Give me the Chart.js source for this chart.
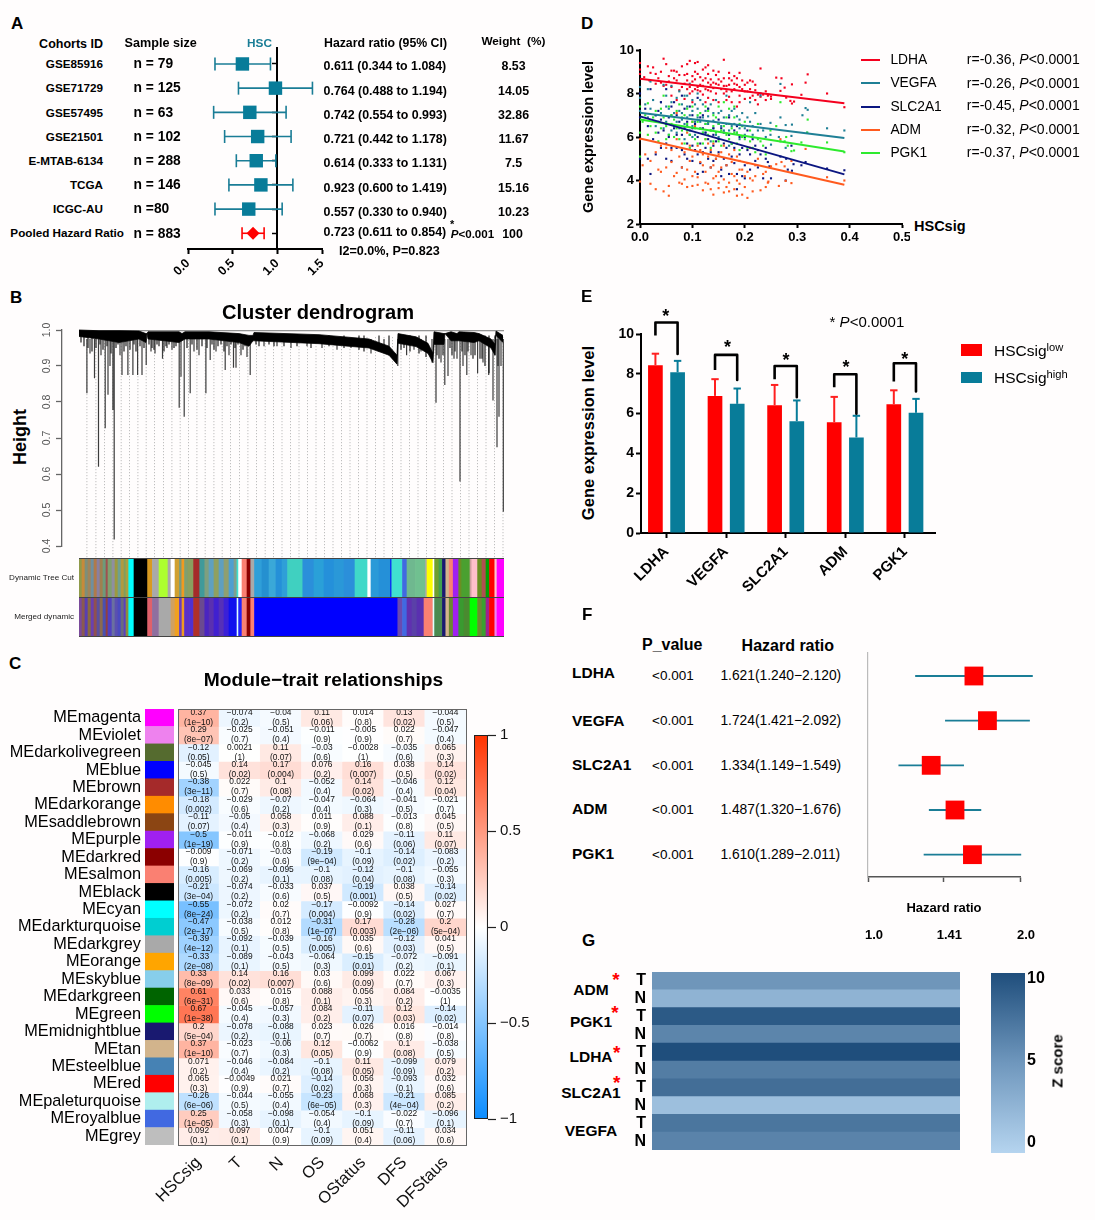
<!DOCTYPE html>
<html>
<head>
<meta charset="utf-8">
<title>HSC signature figure</title>
<script src="https://cdn.jsdelivr.net/npm/chart.js@4"></script>
<style>
  html, body { margin: 0; padding: 0; background: #fffdfd; }
  #page { position: relative; width: 1095px; height: 1220px; overflow: hidden; font-family: "Liberation Sans", Arial, sans-serif; color: #000; }
  #page canvas { position: absolute; }
  .txt { position: absolute; white-space: nowrap; line-height: 1; }
  .shape { position: absolute; }
  sup { font-size: 0.72em; line-height: 0; vertical-align: 0.5em; }
</style>
</head>
<body>
<div id="page"></div>
<script>
// ---------- panel A
const cohorts = ["GSE85916", "GSE71729", "GSE57495", "GSE21501", "E-MTAB-6134", "TCGA", "ICGC-AU", "Pooled Hazard Ratio"];
const sampleSizes = ["n = 79", "n = 125", "n = 63", "n = 102", "n = 288", "n = 146", "n =80", "n = 883"];
const cohortMid = [0.609, 0.979, 0.692, 0.78, 0.764, 0.816, 0.68, 0.728];
const cohortLow = [0.302, 0.565, 0.287, 0.41, 0.541, 0.458, 0.302, 0.605];
const cohortHigh = [0.923, 1.393, 1.098, 1.154, 0.983, 1.174, 1.054, 0.852];
const cohortHrText = ["0.611 (0.344 to 1.084)", "0.764 (0.488 to 1.194)", "0.742 (0.554 to 0.993)", "0.721 (0.442 to 1.178)", "0.614 (0.333 to 1.131)", "0.923 (0.600 to 1.419)", "0.557 (0.330 to 0.940)", "0.723 (0.611 to 0.854)"];
const cohortWeights = ["8.53", "14.05", "32.86", "11.67", "7.5", "15.16", "10.23", "100"];
const cohortTicks = [0, 0.5, 1, 1.5];

// ---------- panel B
const leafGuides = [7.9, 16.9, 25.5, 33.9, 42.2, 50.5, 58.9, 67.2, 75.5, 84.5, 92.9, 101.2, 109.5, 117.9, 126.2, 134.9, 143.2, 151.5, 160.5, 168.9, 177.5, 186.2, 194.5, 203, 211.5, 220, 228.5, 237, 245.5, 254, 262.5, 271, 279.5, 288, 296.5, 305, 313.5, 322, 330.5, 339, 347.5, 356, 364.5, 373, 381.5, 390, 398.5, 407, 415.5, 424];
const stemRank = [7.9, 11, 15.5, 19.5, 22, 26.2, 29, 31, 33.9, 35.2, 41, 43, 48.9, 53.9, 58.6, 63, 67.2, 72, 76, 83.5, 88, 93, 100.2, 102, 105.2, 111.2, 115, 120, 126.9, 131.2, 137, 146.2, 150, 154.5, 157, 162, 168, 171.2, 185, 198, 212, 228, 243, 258, 272, 292, 305, 318.8, 327.6, 335, 342, 353, 357, 362, 365.8, 369, 375, 378, 381, 384, 387.8, 392, 398.6, 404, 409.7, 414, 418, 420, 422, 424.3];
const stemLow = [0.824, 0.935, 0.866, 0.62, 0.93, 0.727, 0.82, 0.9, 0.778, 0.418, 0.93, 0.875, 0.875, 0.875, 0.875, 0.875, 0.903, 0.94, 0.935, 0.92, 0.95, 0.945, 0.784, 0.87, 0.759, 0.824, 0.94, 0.93, 0.824, 0.917, 0.94, 0.889, 0.93, 0.895, 0.895, 0.93, 0.925, 0.875, 0.955, 0.955, 0.95, 0.955, 0.95, 0.945, 0.95, 0.935, 0.94, 0.9, 0.93, 0.945, 0.94, 0.91, 0.798, 0.91, 0.847, 0.872, 0.92, 0.92, 0.579, 0.9, 0.875, 0.93, 0.88, 0.91, 0.875, 0.804, 0.674, 0.759, 0.9, 0.495];
const hairRank = [2, 5, 9, 13, 17, 21, 24, 28, 32, 37, 39, 45, 47, 51, 55, 57, 61, 65, 70, 73, 75, 78, 80, 85, 87, 90, 95, 97, 108, 113, 118, 123, 128, 133, 135, 139, 142, 145, 148, 152, 156, 159, 164, 166, 177, 180, 190, 195, 205, 218, 232, 250, 265, 280, 285, 300, 310, 322, 325, 331, 340, 347, 358, 360, 364, 371, 373, 376, 383, 386, 389, 394, 396, 401, 403, 406, 410, 416, 419];
const hairLow = [0.965, 0.955, 0.95, 0.94, 0.95, 0.96, 0.945, 0.955, 0.935, 0.95, 0.96, 0.94, 0.955, 0.945, 0.96, 0.94, 0.955, 0.95, 0.96, 0.95, 0.945, 0.96, 0.955, 0.94, 0.955, 0.96, 0.95, 0.955, 0.95, 0.96, 0.945, 0.955, 0.95, 0.96, 0.945, 0.955, 0.96, 0.94, 0.955, 0.96, 0.95, 0.96, 0.945, 0.955, 0.96, 0.955, 0.96, 0.955, 0.955, 0.955, 0.95, 0.955, 0.95, 0.945, 0.94, 0.94, 0.93, 0.945, 0.95, 0.94, 0.935, 0.925, 0.93, 0.92, 0.93, 0.95, 0.93, 0.94, 0.94, 0.93, 0.94, 0.92, 0.93, 0.92, 0.92, 0.9, 0.88, 0.93, 0.9];
const treeRank = [0, 20, 40, 60, 67, 68, 69, 85, 100, 103, 106, 130, 160, 170, 174, 175, 240, 290, 310, 318, 319, 337, 349, 354, 355, 365, 366, 372, 378, 380, 395, 400, 412, 416, 417, 424];
const treeTop = [1, 0.998, 0.998, 0.997, 0.99, 0.99, 0.995, 0.995, 0.995, 0.99, 0.995, 0.995, 0.99, 0.985, 0.985, 0.993, 0.987, 0.975, 0.955, 0.93, 0.99, 0.981, 0.963, 0.935, 0.995, 0.99, 0.99, 0.995, 0.99, 0.995, 0.993, 0.99, 0.975, 0.96, 0.997, 0.985];
const treeBottom = [0.982, 0.975, 0.965, 0.975, 0.965, 0.99, 0.975, 0.97, 0.965, 0.97, 0.975, 0.975, 0.965, 0.955, 0.97, 0.97, 0.962, 0.95, 0.93, 0.905, 0.963, 0.954, 0.935, 0.909, 0.96, 0.96, 0.99, 0.97, 0.97, 0.97, 0.965, 0.97, 0.95, 0.93, 0.985, 0.965];
const stripeRows = ["Dynamic Tree Cut", "Merged dynamic"];
const dynamicEnds = [3, 6, 9, 12, 15, 18, 21, 24, 27, 29, 33, 36, 39, 42, 45, 47, 49.7, 55, 68.6, 73.4, 80, 89, 92, 96, 100.4, 102.8, 105.5, 109, 114.6, 120.7, 125.8, 130, 135, 140, 145, 150, 155, 157.9, 159.6, 163, 168, 171.7, 175.5, 183, 190, 197, 203, 208.6, 223.8, 235, 245, 255, 265, 276, 288.7, 292, 300, 311.7, 312.7, 323.5, 328, 336.4, 346.5, 348, 354, 355.6, 360, 363.4, 366.8, 370.2, 374.2, 379.7, 382.7, 391, 392.8, 398.6, 403, 407, 410.5, 415.8, 418, 425];
const dynamicColors = ["#8f9a4a", "#c78a3a", "#7d8f7a", "#a0845a", "#6f8f9f", "#b07a4a", "#8a7fa0", "#9f8050", "#6e9a7a", "#a05050", "#7fa070", "#8f8fa0", "#9c9a40", "#6fa090", "#b09a40", "#7f9f5f", "#a8a040", "#00ffff", "#000000", "#d99a20", "#a9a9a9", "#adff2f", "#a9a9a9", "#ffffff", "#d0a030", "#7a9a7a", "#f09a20", "#7f9f6f", "#8a9f5f", "#a52a2a", "#409a9a", "#7f9f7f", "#5fa0c0", "#8fa060", "#5f9fc0", "#8f9f70", "#4f9fd0", "#7fa090", "#40e0d0", "#ffffff", "#fa8072", "#8b0000", "#a9a9a9", "#2f9fd8", "#2590d0", "#3aa8d8", "#2590d8", "#2f9fd8", "#40d0c0", "#2b8fda", "#2aa0d8", "#2590da", "#2a98d8", "#2b8fda", "#40d8c8", "#ffffff", "#2a9ad8", "#2590d8", "#0000ff", "#40e0d0", "#4169e1", "#6fb88f", "#70c090", "#a9a9a9", "#ffff00", "#ffffff", "#6f9f30", "#40a050", "#191970", "#d2b48c", "#fa8072", "#a020f0", "#6b8e23", "#4aa030", "#d0a0a0", "#ffc0cb", "#6b8e23", "#b05050", "#00a000", "#ff0000", "#ffc0cb", "#ff00ff"];
const mergedEnds = [3, 6, 9, 12, 15, 18, 21, 24, 27, 29, 33, 36, 39, 42, 45, 47, 49.7, 55, 68.6, 73.4, 80, 92, 96, 100.4, 103, 105.5, 110.6, 114.6, 120.7, 125.8, 130, 135, 140, 145, 150, 158, 159.6, 163, 168, 171.7, 175.5, 318.8, 323.5, 328, 333, 338, 345, 354, 355.6, 363.4, 366.8, 370.2, 374.2, 379.7, 385, 391, 398.6, 403, 407, 410.5, 415.8, 418, 425];
const mergedColors = ["#7a4a9a", "#8a5a50", "#5a3fb0", "#8a6a40", "#6a40b0", "#905050", "#5a50a0", "#8a6a50", "#4a50b0", "#904040", "#5040c0", "#6a70a0", "#5a50b0", "#4a4ac0", "#6a6a80", "#5a40c0", "#8a8a40", "#00ffff", "#000000", "#e0606a", "#8f6f9f", "#a9a9a9", "#d0a060", "#f0a020", "#6a3cc0", "#f09a20", "#5a30c8", "#5030d0", "#b03028", "#6a4a90", "#4a25c0", "#5a30b0", "#4020d0", "#5530b8", "#3a20d8", "#1010ee", "#e0ffff", "#2020ff", "#fa8072", "#8b0000", "#fa8072", "#0000ff", "#6a4ab0", "#4169e1", "#6030b0", "#5a40a8", "#5a30b0", "#fa8072", "#e0ffff", "#4a8a50", "#191970", "#d2b48c", "#6a8a30", "#a020f0", "#3a9a30", "#4a8a30", "#00ff00", "#6a8a30", "#3aa030", "#a02090", "#ff0000", "#ee82ee", "#ff00ff"];
const heightTicks = [0.4, 0.5, 0.6, 0.7, 0.8, 0.9, 1];

// ---------- panel C
const moduleNames = ["MEmagenta", "MEviolet", "MEdarkolivegreen", "MEblue", "MEbrown", "MEdarkorange", "MEsaddlebrown", "MEpurple", "MEdarkred", "MEsalmon", "MEblack", "MEcyan", "MEdarkturquoise", "MEdarkgrey", "MEorange", "MEskyblue", "MEdarkgreen", "MEgreen", "MEmidnightblue", "MEtan", "MEsteelblue", "MEred", "MEpaleturquoise", "MEroyalblue", "MEgrey"];
const moduleColors = ["#ff00ff", "#ee82ee", "#556b2f", "#0000ff", "#a52a2a", "#ff8c00", "#8b4513", "#a020f0", "#8b0000", "#fa8072", "#000000", "#00ffff", "#00ced1", "#a9a9a9", "#ffa500", "#87ceeb", "#006400", "#00ff00", "#191970", "#d2b48c", "#4682b4", "#ff0000", "#afeeee", "#4169e1", "#bebebe"];
const traits = ["HSCsig", "T", "N", "OS", "OStatus", "DFS", "DFStaus"];
const moduleCorr = [
  [0.37, -0.074, -0.04, 0.11, 0.014, 0.13, -0.044],
  [0.29, -0.025, -0.051, -0.011, -0.005, 0.022, -0.047],
  [-0.12, 0.0021, 0.11, -0.03, -0.0028, -0.035, 0.065],
  [-0.045, 0.14, 0.17, 0.076, 0.16, 0.038, 0.14],
  [-0.38, 0.022, 0.1, -0.052, 0.14, -0.046, 0.12],
  [-0.18, -0.029, -0.07, -0.047, -0.064, -0.041, -0.021],
  [-0.11, -0.05, 0.058, 0.011, 0.088, -0.013, 0.045],
  [-0.5, -0.011, -0.012, -0.068, 0.029, -0.11, 0.11],
  [-0.009, -0.071, -0.03, -0.19, -0.1, -0.14, -0.083],
  [-0.16, -0.069, -0.095, -0.1, -0.12, -0.1, -0.055],
  [-0.21, -0.074, -0.033, 0.037, -0.19, 0.038, -0.14],
  [-0.55, -0.072, 0.02, -0.17, -0.0092, -0.14, 0.027],
  [-0.47, -0.038, 0.012, -0.31, 0.17, -0.28, 0.2],
  [-0.39, -0.092, -0.039, -0.16, 0.035, -0.12, 0.041],
  [-0.33, -0.089, -0.043, -0.064, -0.15, -0.072, -0.091],
  [0.33, 0.14, 0.16, 0.03, 0.099, 0.022, 0.067],
  [0.61, 0.033, 0.015, 0.088, 0.056, 0.084, -0.0035],
  [0.67, -0.045, -0.057, 0.084, -0.11, 0.12, -0.14],
  [0.2, -0.078, -0.088, 0.023, 0.026, 0.016, -0.014],
  [0.37, -0.023, -0.06, 0.12, -0.0062, 0.1, -0.038],
  [0.071, -0.046, -0.084, -0.1, 0.11, -0.099, 0.079],
  [0.065, -0.0049, 0.021, -0.14, 0.056, -0.093, 0.032],
  [-0.26, -0.044, -0.055, -0.23, 0.068, -0.21, 0.085],
  [0.25, -0.058, -0.098, -0.054, -0.1, -0.022, -0.096],
  [0.092, 0.097, 0.0047, -0.1, 0.051, -0.11, 0.034]
];
const modulePvals = [
  ["1e-10", "0.2", "0.5", "0.06", "0.8", "0.02", "0.5"],
  ["8e-07", "0.7", "0.4", "0.9", "0.9", "0.7", "0.4"],
  ["0.05", "1", "0.07", "0.6", "1", "0.6", "0.3"],
  ["0.5", "0.02", "0.004", "0.2", "0.007", "0.5", "0.02"],
  ["3e-11", "0.7", "0.08", "0.4", "0.02", "0.4", "0.04"],
  ["0.002", "0.6", "0.2", "0.4", "0.3", "0.5", "0.7"],
  ["0.07", "0.4", "0.3", "0.9", "0.1", "0.8", "0.5"],
  ["1e-19", "0.9", "0.8", "0.2", "0.6", "0.06", "0.07"],
  ["0.9", "0.2", "0.6", "9e-04", "0.09", "0.02", "0.2"],
  ["0.005", "0.2", "0.1", "0.08", "0.04", "0.08", "0.3"],
  ["3e-04", "0.2", "0.6", "0.5", "0.001", "0.5", "0.02"],
  ["8e-24", "0.2", "0.7", "0.004", "0.9", "0.02", "0.7"],
  ["2e-17", "0.5", "0.8", "1e-07", "0.003", "2e-06", "5e-04"],
  ["4e-12", "0.1", "0.5", "0.005", "0.6", "0.03", "0.5"],
  ["2e-08", "0.1", "0.5", "0.3", "0.01", "0.2", "0.1"],
  ["8e-09", "0.02", "0.007", "0.6", "0.09", "0.7", "0.3"],
  ["6e-31", "0.6", "0.8", "0.1", "0.3", "0.2", "1"],
  ["1e-38", "0.4", "0.3", "0.2", "0.07", "0.03", "0.02"],
  ["5e-04", "0.2", "0.1", "0.7", "0.7", "0.8", "0.8"],
  ["1e-10", "0.7", "0.3", "0.05", "0.9", "0.08", "0.5"],
  ["0.2", "0.4", "0.2", "0.08", "0.05", "0.09", "0.2"],
  ["0.3", "0.9", "0.7", "0.02", "0.3", "0.1", "0.6"],
  ["6e-06", "0.5", "0.4", "6e-05", "0.3", "4e-04", "0.2"],
  ["1e-05", "0.3", "0.1", "0.4", "0.09", "0.7", "0.1"],
  ["0.1", "0.1", "0.9", "0.09", "0.4", "0.06", "0.6"]
];
const corrTicks = [-1, -0.5, 0, 0.5, 1];

// ---------- panel D
const ldhaPoints = [[0,9.4],[0,9.1],[0,8.9],[0.015,9.25],[0.025,9.2],[0.008,8.75],[0.018,8.6],[0.03,8.9],[0.03,8.45],[0.04,9],[0.045,9.6],[0.05,9.35],[0.055,8.8],[0.05,8.4],[0.06,9.05],[0.065,9.05],[0.07,9],[0.07,8.6],[0.06,7.9],[0.07,7.7],[0.08,9.25],[0.085,8.85],[0.08,8.3],[0.09,9.35],[0.09,8.6],[0.095,9.5],[0.1,8.1],[0.1,8.55],[0.105,9.4],[0.105,9],[0.11,9.45],[0.11,8.3],[0.115,8.75],[0.12,9.1],[0.12,8.35],[0.125,9.2],[0.125,8.7],[0.13,9.3],[0.13,8.5],[0.135,8.1],[0.14,9.05],[0.14,8.5],[0.145,8.85],[0.15,8.4],[0.15,7.6],[0.16,9.55],[0.16,8.7],[0.16,8],[0.165,8.35],[0.17,8.95],[0.17,7.85],[0.175,8.6],[0.18,8.2],[0.185,7.4],[0.19,8.95],[0.19,8.3],[0.19,7.9],[0.2,8.4],[0.2,7.75],[0.205,8.1],[0.21,8.6],[0.215,7.9],[0.22,8.15],[0.225,7.5],[0.23,9.15],[0.235,7.95],[0.24,7.7],[0.09,8.2],[0.095,8],[0.105,8.65],[0.11,8.15],[0.115,8.4],[0.12,7.95],[0.125,8.2],[0.13,7.8],[0.135,8.65],[0.14,8.25],[0.145,8],[0.15,8.65],[0.155,8.2],[0.165,7.7],[0.17,8.4],[0.175,8.1],[0.18,8.8],[0.185,8.4],[0.195,8.6],[0.2,8.1],[0.21,7.8],[0.22,8.4],[0.225,7.95],[0.32,8.88],[0.26,8.73],[0.27,8.7],[0.316,8.5],[0.29,8.42],[0.276,8.27],[0.268,8.12],[0.357,8],[0.308,7.94],[0.39,7.37],[0.287,7.66],[0.294,7.63],[0.29,7.54],[0.25,7.86],[0.244,7.9],[0.279,7.81],[0.02,8.95],[0.035,8.7],[0.04,8.5],[0.045,8.35],[0.055,8.55],[0.06,8.3],[0.065,8.7],[0.075,8.85],[0.075,8.15],[0.085,8.45],[0.085,7.75],[0.09,8.9],[0.095,8.3],[0.1,8.8],[0.1,7.6],[0.105,8.2],[0.11,8.9],[0.115,8.1],[0.12,8.6],[0.125,7.6],[0.13,8.9],[0.13,8.15],[0.135,8.4],[0.14,7.7],[0.145,8.45],[0.15,9],[0.155,8.55],[0.16,8.35],[0.165,8.1],[0.17,8.7],[0.175,7.6],[0.18,8.45],[0.185,8.7],[0.19,7.6],[0.195,8.2],[0.205,8.5],[0.21,8.2],[0.215,8.55],[0.22,7.7],[0.23,7.85],[0.24,8.1],[0.245,7.95],[0.25,7.75]];
const vegfaPoints = [[0,8.3],[0,7.8],[0,7.2],[0.01,7.5],[0.015,8.2],[0.02,8.55],[0.02,7.3],[0.03,7],[0.035,6.7],[0.04,7.6],[0.045,8.4],[0.05,7.9],[0.05,6.7],[0.055,7.3],[0.055,6.1],[0.06,8.35],[0.06,7],[0.065,6.5],[0.07,7.8],[0.07,6.2],[0.075,8.1],[0.075,7.2],[0.08,6.8],[0.085,7.9],[0.085,5.9],[0.09,7.4],[0.09,6.5],[0.095,8.45],[0.095,7],[0.1,7.7],[0.1,6],[0.105,6.7],[0.11,7.3],[0.11,8],[0.115,6.4],[0.12,7.5],[0.12,6.9],[0.125,6.2],[0.13,7.3],[0.13,6.6],[0.135,5.8],[0.14,7.1],[0.14,6.4],[0.145,7.7],[0.15,6.6],[0.15,6],[0.155,7.2],[0.16,6.3],[0.165,7.9],[0.17,7],[0.17,5.6],[0.175,6.5],[0.18,7.3],[0.185,6.2],[0.19,6.8],[0.19,5.9],[0.2,6.4],[0.205,6.9],[0.21,7.6],[0.215,6.1],[0.22,7.1],[0.23,7.9],[0.235,6.3],[0.24,6],[0.268,8.44],[0.316,7.33],[0.32,7.25],[0.31,7],[0.268,6.9],[0.249,6.65],[0.278,6.55],[0.29,6.57],[0.357,6.4],[0.39,6.3],[0.319,6.2],[0.249,6.1],[0.265,6],[0.289,6.05],[0.278,5.5],[0.25,5.65],[0.015,6.9],[0.025,7.7],[0.03,6.5],[0.04,7.1],[0.045,6.4],[0.05,7.4],[0.06,7.6],[0.06,6.3],[0.065,7.1],[0.07,6.7],[0.075,6.4],[0.08,7.5],[0.08,7.1],[0.085,6.6],[0.09,7.9],[0.09,6.9],[0.095,6.3],[0.1,7.2],[0.1,6.5],[0.105,7.5],[0.105,6.1],[0.11,6.9],[0.115,7.7],[0.115,6.7],[0.12,6.2],[0.125,7.2],[0.125,6.6],[0.13,6.95],[0.135,7.5],[0.135,6.3],[0.14,6.75],[0.145,6.1],[0.15,7.1],[0.155,6.5],[0.16,6.9],[0.165,6.6],[0.17,6.3],[0.175,7.2],[0.18,6.6],[0.185,6.95],[0.19,6.4],[0.195,7.1],[0.2,6.1],[0.21,6.7],[0.215,6.5],[0.225,6.3],[0.23,6.6]];
const slc2a1Points = [[0,8],[0,6.9],[0,5],[0.01,7.3],[0.015,5],[0.02,8.2],[0.02,4.3],[0.03,7],[0.03,5.2],[0.035,6.2],[0.04,7.6],[0.04,5.5],[0.05,8.2],[0.05,6.6],[0.05,5],[0.055,6],[0.06,7.4],[0.06,4.9],[0.065,6.4],[0.07,5.5],[0.07,7],[0.08,7.9],[0.08,6.1],[0.08,4.6],[0.085,5.2],[0.09,6.7],[0.09,5.7],[0.095,7.4],[0.1,6.4],[0.1,4.9],[0.105,5.4],[0.11,7.8],[0.11,4.3],[0.11,6],[0.115,4.8],[0.12,7],[0.12,5.3],[0.125,6.2],[0.13,7.3],[0.13,5],[0.135,4.6],[0.14,6.4],[0.14,5.6],[0.145,5],[0.15,6.8],[0.15,5.9],[0.155,4.5],[0.16,6.2],[0.16,5],[0.165,5.5],[0.17,6.9],[0.17,4.3],[0.175,5.7],[0.18,4.8],[0.185,6.5],[0.185,3.6],[0.19,5.2],[0.195,4.2],[0.2,6],[0.2,4.7],[0.205,5.4],[0.21,4.5],[0.215,5.9],[0.22,4.9],[0.225,5.4],[0.23,8],[0.235,4.1],[0.24,5],[0.39,4.47],[0.357,4.55],[0.316,4.85],[0.308,4.7],[0.289,5.6],[0.293,4.75],[0.279,5],[0.282,4.5],[0.29,4.45],[0.244,4.85],[0.247,4.65],[0.25,4.1],[0.278,4],[0.268,5.1],[0.015,6.5],[0.025,5.9],[0.035,7.2],[0.04,6.8],[0.045,6.3],[0.05,5.7],[0.055,6.9],[0.06,5.5],[0.065,7.6],[0.07,6.1],[0.075,6.7],[0.08,5.4],[0.085,7.3],[0.085,6.4],[0.09,5],[0.095,6.1],[0.1,7],[0.1,5.6],[0.105,6.6],[0.11,5.2],[0.115,6.9],[0.115,5.7],[0.12,6.4],[0.12,4.4],[0.125,5.5],[0.13,6.7],[0.13,5.9],[0.135,5.3],[0.14,6.1],[0.14,4.9],[0.145,5.8],[0.15,5.3],[0.155,6.4],[0.155,4.2],[0.16,5.7],[0.165,4.7],[0.17,6.1],[0.175,5.1],[0.18,6.3],[0.18,5.5],[0.185,4.3],[0.19,6],[0.195,5.5],[0.2,4.1],[0.205,6.3],[0.21,5.2],[0.22,5.6],[0.225,4.6],[0.23,5.2],[0.24,5.5]];
const admPoints = [[0,5.9],[0,3.95],[0.005,4.7],[0.02,3.85],[0.03,3.6],[0.035,4.5],[0.045,3.5],[0.04,4.4],[0.05,5.5],[0.055,3.3],[0.06,4.85],[0.055,3.75],[0.07,4.35],[0.07,5.9],[0.07,7.1],[0.075,3.9],[0.08,3.85],[0.085,4.05],[0.09,6.2],[0.09,3.7],[0.1,5.1],[0.1,4.2],[0.1,3.75],[0.105,6.5],[0.11,4.15],[0.11,5.6],[0.115,4.85],[0.12,3.55],[0.12,5.2],[0.125,4.4],[0.13,5.7],[0.13,3.85],[0.135,4.6],[0.14,4.1],[0.14,3.35],[0.145,5],[0.15,4.4],[0.15,3.65],[0.155,5.3],[0.16,4.05],[0.16,3.45],[0.165,4.7],[0.17,3.9],[0.17,3.5],[0.175,4.85],[0.18,4.2],[0.185,5.1],[0.185,3.3],[0.19,4.5],[0.19,3.85],[0.195,3.35],[0.2,4.2],[0.205,3.2],[0.205,4.8],[0.21,5.5],[0.215,4],[0.22,4.7],[0.23,3.55],[0.235,4.3],[0.24,3.7],[0.245,3.95],[0.39,4],[0.357,4.15],[0.316,5.45],[0.268,5.9],[0.26,4.75],[0.276,4.65],[0.27,4.85],[0.289,4.9],[0.25,4.65],[0.265,3.75],[0.289,3.88],[0.244,3.9],[0.278,3.98],[0.01,5.2],[0.02,4.9],[0.03,5.3],[0.04,5.6],[0.05,4.6],[0.06,5.4],[0.065,4.2],[0.075,5.1],[0.08,5.7],[0.08,4.6],[0.085,5.3],[0.09,4.5],[0.095,5.6],[0.095,4.9],[0.1,6.7],[0.105,4.4],[0.11,3.8],[0.115,5.4],[0.12,4.7],[0.125,5.9],[0.125,3.9],[0.13,5.1],[0.135,5.4],[0.135,3.6],[0.14,5.7],[0.14,4.7],[0.145,4.2],[0.15,5.2],[0.15,3.9],[0.155,4.6],[0.16,5.6],[0.165,3.7],[0.17,5.2],[0.175,4.3],[0.18,3.6],[0.18,5.4],[0.185,4],[0.19,4.9],[0.195,4.5],[0.2,3.7],[0.205,4.4],[0.21,4.1],[0.215,3.5],[0.22,4.2],[0.225,5],[0.24,4.4]];
const pgk1Points = [[0,7.4],[0,6.2],[0,5.1],[0.01,7],[0.015,7.55],[0.02,6.5],[0.03,6.2],[0.03,7.2],[0.04,6.4],[0.045,6.9],[0.045,7.9],[0.05,5.9],[0.055,7.4],[0.06,6.6],[0.065,6],[0.07,7.2],[0.07,6.4],[0.08,6.9],[0.085,5.7],[0.09,6.3],[0.09,7.3],[0.095,5.5],[0.1,6.7],[0.105,5.9],[0.11,7],[0.115,6.4],[0.12,5.7],[0.125,6.6],[0.13,6.1],[0.13,7.2],[0.135,5.5],[0.14,6.5],[0.145,6.9],[0.15,5.8],[0.155,6.3],[0.16,7.6],[0.165,6.1],[0.17,6.6],[0.17,7.3],[0.175,5.7],[0.18,6.9],[0.185,6.2],[0.19,5.4],[0.195,6.5],[0.2,5.9],[0.205,5.5],[0.21,6.3],[0.22,5.3],[0.225,6.6],[0.23,5.8],[0.24,5.2],[0.268,7.6],[0.32,6.8],[0.26,6.5],[0.279,6],[0.249,6.3],[0.308,5.75],[0.39,5.3],[0.357,5.75],[0.319,6.2],[0.282,5.6],[0.289,5.35],[0.294,5.38],[0.268,5.8],[0.276,5.8],[0.005,6.7],[0.015,6.1],[0.025,6.9],[0.035,5.8],[0.04,7.3],[0.05,6.5],[0.055,6.1],[0.06,7],[0.065,6.8],[0.075,5.9],[0.075,7.5],[0.08,6.3],[0.085,7],[0.09,6.6],[0.095,6.1],[0.1,7.4],[0.105,6.4],[0.11,5.7],[0.11,6.7],[0.115,7.1],[0.12,6.2],[0.125,5.9],[0.125,7.4],[0.13,6.7],[0.135,6.3],[0.14,5.8],[0.14,7],[0.145,6.2],[0.15,6.6],[0.15,7.4],[0.155,5.6],[0.16,6.5],[0.165,6.9],[0.17,5.9],[0.175,6.4],[0.18,6.2],[0.18,7.4],[0.185,5.7],[0.19,6.6],[0.195,6],[0.2,6.7],[0.21,5.8],[0.215,5.5],[0.225,5.9],[0.235,5.6]];
const geneNames = ["LDHA", "VEGFA", "SLC2A1", "ADM", "PGK1"];
const geneColors = ["#f4001e", "#1f7f95", "#0c1680", "#ff5a1e", "#2eea2e"];
const fitEndX = [0, 0.39];
const fitLdha = [8.68, 7.55];
const fitVegfa = [7.12, 5.95];
const fitSlc2a1 = [6.95, 4.28];
const fitAdm = [5.93, 3.8];
const fitPgk1 = [6.8, 5.33];
const geneStats = ["r=-0.36, ", "r=-0.26, ", "r=-0.45, ", "r=-0.32, ", "r=-0.37, "];

// ---------- panel E
const lowMean = [8.43, 6.89, 6.42, 5.57, 6.47];
const highMean = [8.08, 6.49, 5.62, 4.8, 6.04];
const lowUpper = [9.01, 7.73, 7.44, 6.84, 7.17];
const highUpper = [8.65, 7.26, 6.66, 5.89, 6.74];
const bracketTop = [10.58, 8.95, 8.39, 7.98, 8.53];
const bracketLowEnd = [9.93, 8.19, 7.73, 7.32, 7.61];
const bracketHighEnd = [9, 7.69, 6.82, 5.99, 7.11];

// ---------- panel F
const fGenes = ["LDHA", "VEGFA", "SLC2A1", "ADM", "PGK1"];
const hrMid = [1.621, 1.724, 1.334, 1.487, 1.61];
const hrLow = [1.24, 1.421, 1.149, 1.32, 1.289];
const hrHigh = [2.12, 2.092, 1.549, 1.676, 2.011];
const hrTicks = [1, 1.41, 2];
const hrTickLabels = ["1.0", "1.41", "2.0"];

// ---------- panel G
const zRows = ["T", "N", "T", "N", "T", "N", "T", "N", "T", "N"];
const zScores = [4.6, 2.4, 9.1, 5.9, 10, 6.5, 7.6, 1.5, 7, 6];
const zTicks = [0, 5, 10];

// ---------- helpers
const page = document.getElementById("page");
Chart.defaults.font.family = '"Liberation Sans", Arial, sans-serif';
Chart.defaults.color = "#000";
const TEAL = "#087c99";

function addChart(plot, room, config) {
  const [l, t, r, b] = plot;
  const [rl, rt, rr, rb] = room;
  const canvas = document.createElement("canvas");
  canvas.style.left = (l - rl) + "px";
  canvas.style.top = (t - rt) + "px";
  canvas.width = r - l + rl + rr;
  canvas.height = b - t + rt + rb;
  page.appendChild(canvas);
  const pad = { left: rl, top: rt, right: rr, bottom: rb };
  for (const [id, s] of Object.entries(config.options.scales)) {
    if (s.display === false || typeof s.position === "object") continue;
    const side = id === "x" ? "bottom" : (s.position === "right" ? "right" : "left");
    const size = pad[side];
    pad[side] = 0;
    s.afterFit = sc => {
      if (id === "x") sc.height = size; else sc.width = size;
      sc.paddingLeft = sc.paddingRight = sc.paddingTop = sc.paddingBottom = 0;
    };
  }
  config.options.responsive = false;
  config.options.animation = false;
  config.options.events = [];
  config.options.layout = { padding: pad, autoPadding: false };
  config.options.plugins = { legend: { display: false }, tooltip: { enabled: false } };
  return new Chart(canvas.getContext("2d"), config);
}

function label(html, x, y, opts = {}) {
  const el = document.createElement("div");
  el.className = "txt";
  el.innerHTML = html;
  el.style.left = x + "px";
  el.style.top = y + "px";
  el.style.fontSize = (opts.size || 12) + "px";
  if (opts.bold) el.style.fontWeight = "bold";
  if (opts.color) el.style.color = opts.color;
  const shift = opts.align === "right" ? "-100%" : opts.align === "center" ? "-50%" : "0";
  el.style.transform = `translate(${shift},-50%)` + (opts.rotate ? ` rotate(${opts.rotate}deg)` : "");
  page.appendChild(el);
}

function swatch(x, y, w, h, color) {
  const el = document.createElement("div");
  el.className = "shape";
  el.style.cssText = `left:${x}px;top:${y}px;width:${w}px;height:${h}px;background:${color}`;
  page.appendChild(el);
}

function inkAxis(size, tickLength, extra = {}) {
  return Object.assign({
    grid: { drawOnChartArea: false, tickLength, tickWidth: 2, tickColor: "#000" },
    border: { color: "#000", width: 2 },
    ticks: { color: "#000", font: { weight: "bold", size }, padding: 2 }
  }, extra);
}

function mixColor(from, to, t) {
  const c = from.map((f, i) => Math.round(f + (to[i] - f) * t));
  return `rgb(${c[0]},${c[1]},${c[2]})`;
}
const corrColor = v => v >= 0 ? mixColor([255, 255, 255], [255, 51, 0], v) : mixColor([255, 255, 255], [10, 140, 255], -v);
const zColor = v => mixColor([179, 211, 238], [31, 78, 124], v / 10);
const fmtCorr = v => String(v).replace("-", "\u2212");
const fixedTicks = list => axis => { axis.ticks = list.map(value => ({ value })); };

// ---------- A: pooled forest plot
{
  const rows = cohorts.map((_, i) => i);
  const lines = rows.map(i => ({
    data: [{ x: cohortLow[i], y: i }, { x: cohortHigh[i], y: i }],
    showLine: true,
    borderColor: i === 7 ? "#ff0000" : "#1a7d96",
    borderWidth: 1.6,
    pointStyle: "line",
    pointRotation: 90,
    pointRadius: i === 7 ? 6 : 6.5,
    pointBorderColor: i === 7 ? "#ff0000" : "#1a7d96",
    pointBorderWidth: 1.6,
    clip: false
  }));
  addChart([188, 48, 322, 249], [24, 4, 10, 36], {
    type: "scatter",
    data: {
      datasets: [
        { data: rows.slice(0, 7).map(i => ({ x: cohortMid[i], y: i })), pointStyle: "rect", pointRadius: 9.5, backgroundColor: TEAL, borderWidth: 0 },
        { data: [{ x: cohortMid[7], y: 7 }], pointStyle: "rectRot", pointRadius: 6.5, backgroundColor: "#ff0000", borderWidth: 0 },
        ...lines
      ]
    },
    options: {
      scales: {
        x: inkAxis(12.5, 5, {
          type: "linear", min: 0, max: 1.5,
          afterBuildTicks: fixedTicks(cohortTicks),
          ticks: { color: "#000", font: { weight: "bold", size: 12.5 }, padding: 2, minRotation: 45, maxRotation: 45, autoSkip: false, callback: v => v.toFixed(1) }
        }),
        y: {
          type: "linear", min: -0.66, max: 7.65, reverse: true, position: { x: 1 },
          afterBuildTicks: fixedTicks(rows),
          grid: { drawOnChartArea: false, tickLength: 4, tickWidth: 1.5, tickColor: "#000" },
          border: { color: "#000", width: 2 },
          ticks: { display: false }
        }
      }
    }
  });
  label("A", 11, 23, { size: 17, bold: true });
  label("Cohorts ID", 103, 44, { size: 12.5, bold: true, align: "right" });
  label("Sample size", 124.6, 43, { size: 12.6, bold: true });
  label("HSC", 247, 44, { size: 11.8, bold: true, color: "#1a7d96" });
  label("Hazard ratio (95% CI)", 324, 43, { size: 12.3, bold: true });
  label("Weight&nbsp;&nbsp;(%)", 481.4, 42, { size: 11.8, bold: true });
  const textY = [66, 91, 115, 139, 163, 188, 212, 232];
  const nameY = [64, 88, 112.5, 136.5, 161, 185, 209, 233];
  const nY = [63.5, 88, 112.5, 136.5, 161, 185, 209, 233.5];
  cohorts.forEach((name, i) => {
    label(name, i === 7 ? 124 : 103, nameY[i], { size: 11.7, bold: true, align: "right" });
    label(sampleSizes[i], 133.6, nY[i], { size: 13.8, bold: true });
    label(cohortHrText[i], 323.6, textY[i], { size: 12.4, bold: true });
    label(cohortWeights[i], i === 7 ? 512.5 : 513.6, i === 7 ? 234 : textY[i], { size: 12.4, bold: true, align: "center" });
  });
  label("*", 450, 224, { size: 11, bold: true });
  label("<i>P</i>&lt;0.001", 450.7, 233.5, { size: 11.6, bold: true });
  label("I2=0.0%, P=0.823", 339, 251, { size: 12.6, bold: true });
}

// ---------- B: dendrogram
{
  const stems = stemRank.flatMap((x, i) => [{ x, y: 0.975 }, { x, y: stemLow[i] }, { x, y: NaN }]);
  const hairs = hairRank.flatMap((x, i) => [{ x, y: 0.985 }, { x, y: hairLow[i] }, { x, y: NaN }]);
  const guides = leafGuides.flatMap(x => [{ x, y: 0.98 }, { x, y: 0.352 }, { x, y: NaN }]);
  addChart([62, 330, 504, 546], [30, 14, 4, 14], {
    type: "scatter",
    data: {
      datasets: [
        { data: treeRank.map((x, i) => ({ x, y: treeTop[i] })), showLine: true, borderWidth: 0.8, borderColor: "#000", backgroundColor: "#000", fill: "+1", pointRadius: 0, clip: false },
        { data: treeRank.map((x, i) => ({ x, y: treeBottom[i] })), showLine: true, borderWidth: 0.8, borderColor: "#111", pointRadius: 0, clip: false },
        { data: [{ x: 0, y: 0.998 }, { x: 425, y: 0.998 }], showLine: true, borderWidth: 1, borderColor: "#777", pointRadius: 0 },
        { data: hairs, showLine: true, borderWidth: 1.2, borderColor: "#1e1e1e", pointRadius: 0, spanGaps: false },
        { data: stems, showLine: true, borderWidth: 1.2, borderColor: "#3c3c3c", pointRadius: 0, spanGaps: false },
        { data: guides, showLine: true, borderWidth: 1, borderColor: "#b0b0b0", borderDash: [1, 2], pointRadius: 0, spanGaps: false, clip: false }
      ]
    },
    options: {
      scales: {
        x: { type: "linear", display: false, min: -17, max: 425 },
        y: {
          type: "linear", min: 0.4, max: 1,
          afterBuildTicks: fixedTicks(heightTicks),
          grid: { drawOnChartArea: false, tickLength: 6, tickWidth: 1.3, tickColor: "#666" },
          border: { color: "#666", width: 1.3 },
          ticks: { color: "#555", font: { size: 10.5 }, minRotation: 90, crossAlign: "center", padding: 2, callback: v => v.toFixed(1) }
        }
      }
    }
  });
  const spans = (ends, row) => ends.map((end, i) => ({ x: [i ? ends[i - 1] : 0, end], y: row }));
  addChart([79, 558, 504, 636], [78, 1, 2, 1], {
    type: "bar",
    data: {
      labels: stripeRows,
      datasets: [
        { data: spans(dynamicEnds, stripeRows[0]), backgroundColor: dynamicColors, grouped: false, barPercentage: 1, categoryPercentage: 1 },
        { data: spans(mergedEnds, stripeRows[1]), backgroundColor: mergedColors, grouped: false, barPercentage: 1, categoryPercentage: 1 }
      ]
    },
    options: {
      indexAxis: "y",
      scales: {
        x: { type: "linear", display: false, min: 0, max: 425 },
        y: {
          type: "category",
          grid: { z: 1, color: "#444", lineWidth: 1, drawTicks: false },
          border: { display: false },
          ticks: { font: { size: 8.1 }, color: "#222", padding: 5 }
        }
      }
    }
  });
  label("B", 10, 297, { size: 17, bold: true });
  label("Cluster dendrogram", 318, 312, { size: 20.1, bold: true, align: "center" });
  label("Height", 20, 437, { size: 18, bold: true, align: "center", rotate: -90 });
}

// ---------- C: module-trait heatmap
{
  addChart([145, 709, 174, 1145], [145, 0, 1, 0], {
    type: "bar",
    data: {
      labels: moduleNames,
      datasets: [{ data: moduleNames.map(() => [0, 1]), backgroundColor: moduleColors, barPercentage: 1, categoryPercentage: 1 }]
    },
    options: {
      indexAxis: "y",
      scales: {
        x: { type: "linear", display: false, min: 0, max: 1 },
        y: { type: "category", grid: { display: false, drawTicks: false }, border: { display: false }, ticks: { autoSkip: false, font: { size: 16.3 }, padding: 4 } }
      }
    }
  });
  const cellText = {
    id: "cellText",
    afterDatasetsDraw(chart) {
      const { ctx, scales: { x, y } } = chart;
      ctx.save();
      ctx.font = '8.4px "Liberation Sans", Arial, sans-serif';
      ctx.fillStyle = "#111";
      ctx.textAlign = "center";
      ctx.textBaseline = "middle";
      moduleCorr.forEach((row, r) => row.forEach((v, c) => {
        const cx = x.getPixelForValue(c);
        const top = y.getPixelForValue(r);
        ctx.fillText(fmtCorr(v), cx, top + 3.4);
        ctx.fillText("(" + modulePvals[r][c].replace("-", "\u2212") + ")", cx, top + 13.4);
      }));
      ctx.restore();
    }
  };
  addChart([178, 709, 466, 1145], [34, 2, 8, 72], {
    type: "bar",
    data: {
      labels: traits,
      datasets: moduleCorr.map((row, r) => ({
        data: row.map(() => [r, r + 1]),
        backgroundColor: row.map(corrColor),
        grouped: false, barPercentage: 1, categoryPercentage: 1
      }))
    },
    options: {
      scales: {
        x: { type: "category", grid: { display: false, drawTicks: false }, border: { display: false }, ticks: { font: { size: 16.5 }, color: "#111", minRotation: 45, maxRotation: 45, autoSkip: false, padding: 8 } },
        y: { type: "linear", display: false, min: 0, max: 25, reverse: true }
      }
    },
    plugins: [cellText]
  });
  const frame = document.createElement("div");
  frame.className = "shape";
  frame.style.cssText = "left:177.5px;top:708.5px;width:287.5px;height:435.5px;border:1.5px solid #666";
  page.appendChild(frame);
  // colour key
  addChart([474, 735, 488, 1119], [2, 8, 50, 8], {
    type: "bar",
    data: {
      labels: [""],
      datasets: [{
        data: [[-1, 1]], barPercentage: 1, categoryPercentage: 1, borderSkipped: false, borderWidth: 1.4, borderColor: "#222",
        backgroundColor: ctx => {
          const area = ctx.chart.chartArea;
          if (!area) return "#fff";
          const g = ctx.chart.ctx.createLinearGradient(0, area.top, 0, area.bottom);
          g.addColorStop(0, "#ff3300");
          g.addColorStop(0.5, "#ffffff");
          g.addColorStop(1, "#0a8cff");
          return g;
        }
      }]
    },
    options: {
      scales: {
        x: { type: "category", display: false },
        y: {
          type: "linear", position: "right", min: -1, max: 1,
          afterBuildTicks: fixedTicks(corrTicks),
          grid: { drawOnChartArea: false, tickLength: 8, tickWidth: 1.2, tickColor: "#222" },
          border: { display: false },
          ticks: { font: { size: 15 }, color: "#111", padding: 4, callback: v => fmtCorr(v) }
        }
      }
    }
  });
  label("C", 9, 663, { size: 17, bold: true });
  label("Module\u2212trait relationships", 323.5, 680, { size: 19.2, bold: true, align: "center" });
}

// ---------- D: expression against HSCsig
{
  const seriesPoints = [ldhaPoints, vegfaPoints, slc2a1Points, admPoints, pgk1Points];
  const fits = [fitLdha, fitVegfa, fitSlc2a1, fitAdm, fitPgk1];
  const fitSets = fits.map((ys, i) => ({
    data: ys.map((y, k) => ({ x: fitEndX[k], y })),
    showLine: true, borderColor: geneColors[i], borderWidth: 2, pointRadius: 0, clip: false
  }));
  const dotSets = seriesPoints.map((pts, i) => ({
    data: pts.map(([x, y]) => ({ x, y })),
    pointStyle: "rect", pointRadius: 1.5, backgroundColor: geneColors[i], borderWidth: 0, clip: false
  })).reverse();
  addChart([640, 50, 902, 224], [40, 6, 8, 24], {
    type: "scatter",
    data: { datasets: [...fitSets, ...dotSets] },
    options: {
      scales: {
        x: inkAxis(13, 4, {
          type: "linear", min: 0, max: 0.5,
          ticks: { color: "#000", font: { weight: "bold", size: 13 }, padding: 2, stepSize: 0.1, maxRotation: 0, callback: v => v.toFixed(1) }
        }),
        y: inkAxis(13, 4, {
          type: "linear", min: 2, max: 10,
          ticks: { color: "#000", font: { weight: "bold", size: 13 }, padding: 2, stepSize: 2 }
        })
      }
    }
  });
  label("D", 581, 23, { size: 17, bold: true });
  label("Gene expression level", 588, 137, { size: 14.4, bold: true, align: "center", rotate: -90 });
  label("HSCsig", 914, 226, { size: 14.5, bold: true });
  const legendY = [60, 83.3, 106.7, 130, 153.3];
  const statY = [59.3, 83, 105, 128.7, 151.7];
  geneNames.forEach((g, i) => {
    swatch(861, legendY[i] - 1, 19, 2, geneColors[i]);
    label(g, 890.4, legendY[i], { size: 13.8 });
    label(geneStats[i] + "<i>P</i>&lt;0.0001", 966.8, statY[i], { size: 14 });
  });
}

// ---------- E: mean expression bars
{
  const dodge = 0.186;
  const whiskers = (means, tops, side, color) => means.map((m, i) => ({
    type: "scatter", order: 1,
    data: [{ x: i + side, y: m }, { x: i + side, y: tops[i] }],
    showLine: true, borderColor: color, borderWidth: 2,
    pointStyle: "line", pointRadius: [0, 3.7], pointBorderColor: color, pointBorderWidth: 2, clip: false
  }));
  const brackets = geneNames.map((_, i) => ({
    type: "scatter", order: 0,
    data: [
      { x: i - dodge, y: bracketLowEnd[i] }, { x: i - dodge, y: bracketTop[i] },
      { x: i + dodge, y: bracketTop[i] }, { x: i + dodge, y: bracketHighEnd[i] }
    ],
    showLine: true, borderColor: "#000", borderWidth: 2.6, borderJoinStyle: "round", pointRadius: 0, clip: false
  }));
  addChart([641, 334, 935, 533], [40, 14, 6, 64], {
    type: "bar",
    data: {
      datasets: [
        { label: "low", order: 2, data: lowMean.map((y, x) => ({ x, y })), backgroundColor: "#ff0000", barPercentage: 0.662, categoryPercentage: 0.745 },
        { label: "high", order: 2, data: highMean.map((y, x) => ({ x, y })), backgroundColor: TEAL, barPercentage: 0.662, categoryPercentage: 0.745 },
        ...whiskers(lowMean, lowUpper, -dodge, "#ff2020"),
        ...whiskers(highMean, highUpper, dodge, TEAL),
        ...brackets
      ]
    },
    options: {
      scales: {
        x: inkAxis(15, 5, {
          type: "linear", offset: false, min: -0.428, max: 4.505,
          afterBuildTicks: fixedTicks(geneNames.map((_, i) => i)),
          grid: { offset: false, drawOnChartArea: false, tickLength: 5, tickWidth: 2, tickColor: "#000" },
          ticks: { color: "#000", font: { weight: "bold", size: 15 }, padding: 5, minRotation: 45, maxRotation: 45, autoSkip: false, callback: v => geneNames[v] }
        }),
        y: inkAxis(14, 5, {
          type: "linear", min: 0, max: 10,
          ticks: { color: "#000", font: { weight: "bold", size: 14 }, padding: 2, stepSize: 2 }
        })
      }
    }
  });
  label("E", 581, 296, { size: 17, bold: true });
  label("Gene expression level", 588, 433, { size: 16.5, bold: true, align: "center", rotate: -90 });
  label("* <i>P</i>&lt;0.0001", 829.6, 321, { size: 15 });
  swatch(961, 344, 21, 12, "#ff0000");
  swatch(961, 372, 21, 11, TEAL);
  label("HSCsig<sup>low</sup>", 994, 351, { size: 15.5 });
  label("HSCsig<sup>high</sup>", 994, 378, { size: 15.5 });
  const starX = [665.8, 727.6, 786, 846, 904.7];
  const starY = [316, 347, 360, 367, 359];
  starX.forEach((x, i) => label("*", x, starY[i], { size: 18, bold: true, align: "center" }));
}

// ---------- F: gene hazard ratios
{
  const lines = hrMid.map((_, i) => ({
    data: [{ x: hrLow[i], y: i }, { x: hrHigh[i], y: i }],
    showLine: true, borderColor: "#1a7d96", borderWidth: 1.8, pointRadius: 0, clip: false, order: 2
  }));
  addChart([868, 653, 1020, 877], [4, 2, 20, 70], {
    type: "scatter",
    data: {
      datasets: [
        { order: 1, data: hrMid.map((x, y) => ({ x, y })), pointStyle: "rect", pointRadius: 13.3, backgroundColor: "#ff0000", borderWidth: 0, clip: false },
        ...lines
      ]
    },
    options: {
      scales: {
        x: {
          type: "logarithmic", min: 1, max: 2,
          afterBuildTicks: fixedTicks(hrTicks),
          grid: { drawOnChartArea: false, tickLength: 5, tickWidth: 1.5, tickColor: "#555" },
          border: { color: "#555", width: 1.5 },
          ticks: { color: "#000", font: { weight: "bold", size: 13 }, padding: 46, labelOffset: 6, autoSkip: false, maxRotation: 0, callback: (v, i) => hrTickLabels[i] }
        },
        y: {
          type: "linear", min: -0.515, max: 4.5, reverse: true,
          grid: { display: false, drawTicks: false }, border: { color: "#bbb", width: 1.2 }, ticks: { display: false }
        }
      }
    }
  });
  label("F", 582, 614, { size: 17, bold: true });
  label("P_value", 642, 645, { size: 16, bold: true });
  label("Hazard ratio", 741.6, 646, { size: 16, bold: true });
  label("Hazard ratio", 944, 907, { size: 13, bold: true, align: "center" });
  const nameY = [673, 721, 765, 809, 854];
  const hrText = hrMid.map((m, i) => `${m.toFixed(3)}(${hrLow[i].toFixed(3)}\u2212${hrHigh[i].toFixed(3)})`);
  const valueY = [676, 721, 765.7, 810, 855];
  fGenes.forEach((g, i) => {
    label(g, 572, nameY[i], { size: 15.5, bold: true });
    label("&lt;0.001", 652, valueY[i], { size: 13.5 });
    label(hrText[i], 720.4, valueY[i], { size: 13.8 });
  });
}

// ---------- G: z score rows
{
  addChart([652, 972, 960, 1150], [24, 1, 1, 1], {
    type: "bar",
    data: {
      labels: zRows,
      datasets: [{ data: zScores.map(() => [0, 1]), backgroundColor: zScores.map(zColor), borderColor: zScores.map(zColor), borderWidth: 0, barPercentage: 1, categoryPercentage: 1 }]
    },
    options: {
      indexAxis: "y",
      scales: {
        x: { type: "linear", display: false, min: 0, max: 1 },
        y: { type: "category", grid: { display: false, drawTicks: false }, border: { display: false }, ticks: { autoSkip: false, font: { weight: "bold", size: 16 }, padding: 6 } }
      }
    }
  });
  addChart([991, 973, 1025, 1153], [2, 8, 30, 8], {
    type: "bar",
    data: {
      labels: [""],
      datasets: [{
        data: [[-0.61, 10.37]], barPercentage: 1, categoryPercentage: 1,
        backgroundColor: ctx => {
          const area = ctx.chart.chartArea;
          if (!area) return "#fff";
          const g = ctx.chart.ctx.createLinearGradient(0, area.bottom, 0, area.top);
          g.addColorStop(0, "#b5d4ef");
          g.addColorStop(0.5, "#6f97bd");
          g.addColorStop(1, "#1f4e7c");
          return g;
        }
      }]
    },
    options: {
      scales: {
        x: { type: "category", display: false },
        y: {
          type: "linear", position: "right", min: -0.61, max: 10.37,
          afterBuildTicks: fixedTicks(zTicks),
          grid: { display: false, drawTicks: false }, border: { display: false },
          ticks: { font: { weight: "bold", size: 16 }, padding: 2 }
        }
      }
    }
  });
  label("G", 582, 940, { size: 17, bold: true });
  const zGeneY = [990, 1021.7, 1056.7, 1093, 1130.7];
  const zGenes = ["ADM", "PGK1", "LDHA", "SLC2A1", "VEGFA"];
  zGenes.forEach((g, i) => label(g, 591, zGeneY[i], { size: 15.5, bold: true, align: "center" }));
  const redStarX = [616, 615, 616.7, 616.7];
  const redStarY = [979, 1012, 1052, 1082];
  redStarX.forEach((x, i) => label("*", x, redStarY[i], { size: 19, bold: true, color: "#ff0000", align: "center" }));
  label("Z score", 1057, 1061, { size: 15, bold: true, align: "center", rotate: -90 });
}
</script>
</body>
</html>
